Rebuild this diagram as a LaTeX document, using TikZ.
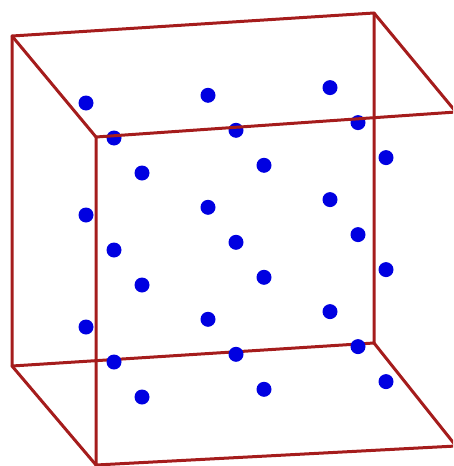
\documentclass[tikz,border=0pt]{standalone}
\definecolor{edgered}{RGB}{165,28,28}
\definecolor{dotblue}{RGB}{0,0,225}
\begin{document}
\begin{tikzpicture}[x=1pt,y=-1pt,
  edge/.style={draw=edgered,line width=3pt,line cap=round,line join=round},
  atom/.style={circle,fill=dotblue,inner sep=0pt,minimum size=15pt}]
\useasboundingbox (0,0) rectangle (453,466);
\clip (0,0) rectangle (453,466);
% cube corners
\coordinate (btl) at (12,36);
\coordinate (btr) at (374,13);
\coordinate (bbr) at (374,343);
\coordinate (bbl) at (12,366);
\coordinate (ftl) at (96,137);
\coordinate (ftr) at (456,112);
\coordinate (fbr) at (456,446);
\coordinate (fbl) at (96,465);
% back face and depth edges
\draw[edge] (btl) -- (btr) -- (bbr) -- (bbl) -- cycle;
\draw[edge] (btl) -- (ftl);
\draw[edge] (btr) -- (ftr);
\draw[edge] (bbr) -- (fbr);
\draw[edge] (bbl) -- (fbl);
% atoms: 3x3x3 lattice
\foreach \i in {0,1,2}{
  \foreach \j in {0,1,2}{
    \foreach \k in {0,1,2}{
      \node[atom] (a\i\j\k) at ({86+122*\i+28*\j},{103-7.7*\i+35*\j+112*\k}) {};
    }}}
% front face
\draw[edge] (ftl) -- (ftr) -- (fbr) -- (fbl) -- cycle;
\end{tikzpicture}
\end{document}
